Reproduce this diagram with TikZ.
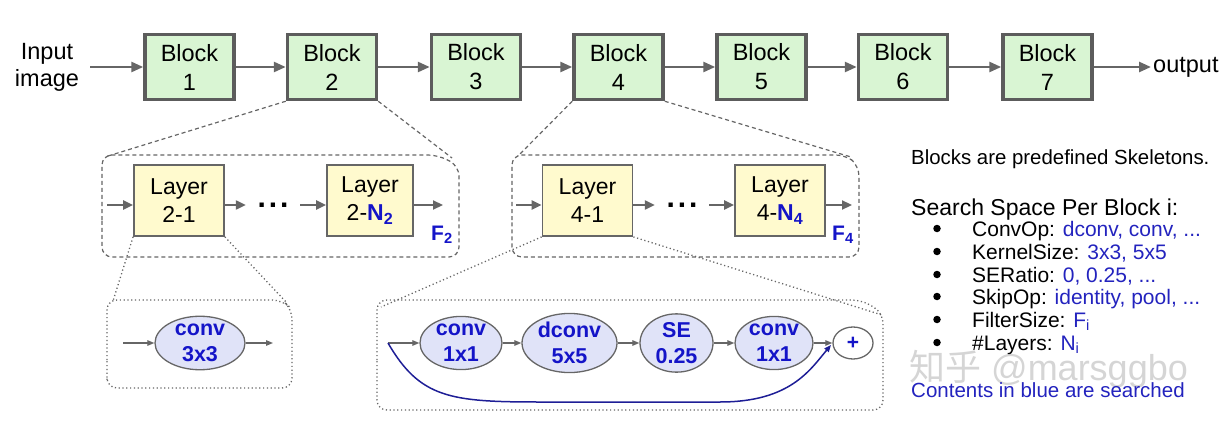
\documentclass[tikz,border=0pt]{standalone}
\usepackage{fontspec}
\setmainfont{Liberation Sans}
\newfontfamily\cjkfont{Noto Sans CJK SC}
\usetikzlibrary{arrows.meta,shapes.geometric,calc}

\definecolor{blockfill}{RGB}{217,245,211}
\definecolor{blockdraw}{RGB}{92,92,92}
\definecolor{arrowgray}{RGB}{102,102,102}
\definecolor{layerfill}{RGB}{255,250,206}
\definecolor{opfill}{RGB}{224,227,248}
\definecolor{srchblue}{RGB}{20,20,200}
\definecolor{txtblue}{RGB}{35,35,190}
\definecolor{skipblue}{RGB}{30,30,150}
\definecolor{wmgray}{RGB}{195,195,195}

\tikzset{
  block/.style={draw=blockdraw, line width=3.5pt, fill=blockfill, minimum width=89pt, minimum height=65pt, align=center, inner sep=0pt, font=\fontsize{23.5}{29}\selectfont},
  layerbox/.style={draw=arrowgray, line width=1.8pt, fill=layerfill, minimum width=90pt, minimum height=71pt, align=center, inner sep=0pt, font=\fontsize{23}{28}\selectfont},
  opnode/.style={ellipse, draw=arrowgray, line width=1.3pt, fill=opfill, inner sep=0pt, minimum height=53pt, align=center, text=srchblue, font=\bfseries\fontsize{21.5}{26}\selectfont},
  bigarrow/.style={draw=arrowgray, line width=2.6pt, -{Triangle[length=12pt,width=10pt]}},
  midarrow/.style={draw=arrowgray, line width=2.2pt, -{Triangle[length=10pt,width=9pt]}},
  smallarrow/.style={draw=arrowgray, line width=1.2pt, -{Triangle[length=7pt,width=5.5pt]}},
  dashedline/.style={draw=arrowgray, line width=1.2pt, dash pattern=on 4pt off 3pt},
  dottedline/.style={draw=arrowgray, line width=1.3pt, dash pattern=on 1.2pt off 2.6pt},
  plain/.style={inner sep=0pt, font=\fontsize{23.5}{27}\selectfont},
  sidetext/.style={anchor=base west, inner sep=0pt, font=\fontsize{21}{25}\selectfont},
  bulletdot/.style={circle, fill=black, minimum size=7.5pt, inner sep=0pt},
  dotsnode/.style={minimum width=54pt, inner sep=0pt, font=\bfseries\fontsize{30}{30}\selectfont},
}

\begin{document}
\begin{tikzpicture}[x=1pt,y=-1pt]
\useasboundingbox (0,0) rectangle (1228,422);

% ---------- top row ----------
\node[plain, align=center] (inlabel) at (47,67) {Input\\image};
\coordinate (instart) at (90,67);
\foreach \i/\x in {1/189.5,2/332,3/476,4/618.5,5/761.5,6/903,7/1047.5}{
  \node[block] (b\i) at (\x,67) {Block\\\i};
}
\node[plain, anchor=west, inner sep=2pt] (outlabel) at (1151,67) {output};
\draw[bigarrow] (instart) -- (b1.west);
\foreach \a/\b in {1/2,2/3,3/4,4/5,5/6,6/7}{
  \draw[bigarrow] (b\a.east) -- (b\b.west);
}
\draw[bigarrow] (b7.east) -- (outlabel.west);

% ---------- dashed frames ----------
\draw[dashedline, rounded corners=10pt] (102,230) -- (102,155) -- (438,155) -- (459,166) -- (459,257) -- (102,257) -- cycle;
\draw[dashedline, rounded corners=10pt] (512,230) -- (512,155) -- (846,155) -- (859,166) -- (859,257) -- (512,257) -- cycle;

\coordinate (f1tl) at (108,156);
\coordinate (f1tr) at (452,158);
\coordinate (f2tl) at (518,156);
\coordinate (f2tr) at (851,157);
\draw[dashedline] (b2.south west) -- (f1tl);
\draw[dashedline] (b2.south east) -- (f1tr);
\draw[dashedline] (b4.south west) -- (f2tl);
\draw[dashedline] (b4.south east) -- (f2tr);

% ---------- layer rows ----------
\node[layerbox] (L21) at (179,200.5) {Layer\\2-1};
\node[layerbox, minimum width=86pt] (L2N) at (370,200.5) {Layer\\2-{\bfseries\color{srchblue}N\textsubscript{2}}};
\node[dotsnode] (dots2) at (273,205) {.\hspace{3pt}.\hspace{3pt}.};
\coordinate (l2in) at (107,205);
\coordinate (l2out) at (443,205);
\draw[midarrow] (l2in) -- ([yshift=-4.5pt]L21.west);
\draw[midarrow] ([yshift=-4.5pt]L21.east) -- (dots2.west);
\draw[midarrow] (dots2.east) -- ([yshift=-4.5pt]L2N.west);
\draw[midarrow] ([yshift=-4.5pt]L2N.east) -- (l2out);
\node[anchor=base west, inner sep=0pt, text=srchblue, font=\bfseries\fontsize{21}{21}\selectfont] (F2) at (431,240) {F\textsubscript{2}};

\node[layerbox] (L41) at (587.5,200.5) {Layer\\4-1};
\node[layerbox] (L4N) at (780,200.5) {Layer\\4-{\bfseries\color{srchblue}N\textsubscript{4}}};
\node[dotsnode] (dots4) at (682,205) {.\hspace{3pt}.\hspace{3pt}.};
\coordinate (l4in) at (516,205);
\coordinate (l4out) at (852,205);
\draw[midarrow] (l4in) -- ([yshift=-4.5pt]L41.west);
\draw[midarrow] ([yshift=-4.5pt]L41.east) -- (dots4.west);
\draw[midarrow] (dots4.east) -- ([yshift=-4.5pt]L4N.west);
\draw[midarrow] ([yshift=-4.5pt]L4N.east) -- (l4out);
\node[anchor=base west, inner sep=0pt, text=srchblue, font=\bfseries\fontsize{21}{21}\selectfont] (F4) at (832,240) {F\textsubscript{4}};

% ---------- dotted frames ----------
\draw[dottedline, rounded corners=10pt] (107,370) -- (107,300) -- (282,300) -- (292,309) -- (292,388) -- (107,388) -- cycle;
\draw[dottedline, rounded corners=10pt] (377,370) -- (377,300) -- (862,300) -- (883,313) -- (883,410) -- (377,410) -- cycle;

\coordinate (d1tl) at (113,301);
\coordinate (d1tr) at (287,303);
\coordinate (d2tl) at (381,307);
\coordinate (d2tr) at (882,315);
\draw[dottedline] (L21.south west) -- (d1tl);
\draw[dottedline] (L21.south east) -- (d1tr);
\draw[dottedline] (L41.south west) -- (d2tl);
\draw[dottedline] (L41.south east) -- (d2tr);

% ---------- op rows ----------
\node[opnode, minimum width=90pt] (c33) at (200,343) {conv\\3x3};
\coordinate (c33in) at (123,343);
\coordinate (c33out) at (273,343);
\draw[smallarrow] (c33in) -- (c33.west);
\draw[smallarrow] (c33.east) -- (c33out);

\node[opnode, minimum width=82pt] (op1) at (461,343) {conv\\1x1};
\node[opnode, minimum width=95pt] (op2) at (569.5,343) {dconv\\5x5};
\node[opnode, minimum width=73pt] (op3) at (676.5,343) {SE\\0.25};
\node[opnode, minimum width=78pt] (op4) at (774,343) {conv\\1x1};
\node[ellipse, draw=arrowgray, line width=1.3pt, fill=white, minimum width=40pt, minimum height=32pt, inner sep=0pt, text=srchblue, font=\bfseries\fontsize{21}{21}\selectfont] (plus) at (853,343) {+};
\coordinate (skipin) at (388,343);
\draw[smallarrow] (skipin) -- (op1.west);
\draw[smallarrow] (op1.east) -- (op2.west);
\draw[smallarrow] (op2.east) -- (op3.west);
\draw[smallarrow] (op3.east) -- (op4.west);
\draw[smallarrow] (op4.east) -- (plus.west);
\draw[draw=skipblue, line width=1.5pt, -{Triangle[length=7pt,width=5.5pt]}] (skipin) .. controls (420,398) and (450,402) .. (540,402) -- (720,402) .. controls (790,402) and (810,370) .. (831,345);

% ---------- side text ----------
\node[sidetext, font=\fontsize{20.4}{24}\selectfont] (t1) at (911,165) {Blocks are predefined Skeletons.};
\node[sidetext, font=\fontsize{23}{27}\selectfont] (t2) at (911,215) {Search Space Per Block i:};
\foreach \y/\n/\k/\v in {236/s1/ConvOp/{dconv, conv, ...},259/s2/KernelSize/{3x3, 5x5},282/s3/SERatio/{0, 0.25, ...},304/s4/SkipOp/{identity, pool, ...}}{
  \node[bulletdot] (\n b) at (937,\y-7.5) {};
  \node[sidetext] (\n) at (972,\y) {\k: \textcolor{txtblue}{\v}};
}
\node[bulletdot] (s5b) at (937,319.5) {};
\node[sidetext] (s5) at (972,327) {FilterSize: \textcolor{txtblue}{F\textsubscript{i}}};
\node[bulletdot] (s6b) at (937,342.5) {};
\node[sidetext] (s6) at (972,350) {\#Layers: \textcolor{txtblue}{N\textsubscript{i}}};
\node[anchor=base west, inner sep=0pt, text=wmgray, opacity=0.7, font=\fontsize{36}{36}\selectfont] (wm) at (909,380) {{\cjkfont 知乎} @marsggbo};
\node[sidetext, font=\fontsize{20.5}{24}\selectfont, text=txtblue] (t3) at (911,397) {Contents in blue are searched};
\end{tikzpicture}
\end{document}
